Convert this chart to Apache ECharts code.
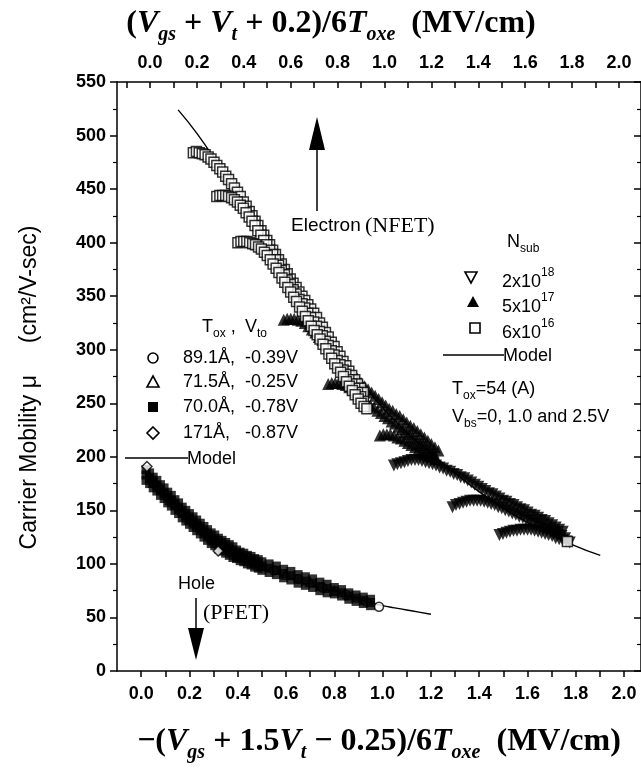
<!DOCTYPE html>
<html><head><meta charset="utf-8">
<script src="https://cdn.jsdelivr.net/npm/echarts@6/dist/echarts.min.js"></script>
<style>html,body{margin:0;padding:0;background:#fff}#c{width:641px;height:768px}</style>
</head><body><div id="c"></div>
<script>
// ---- tick labels ----
const yTickLabels = ['0','50','100','150','200','250','300','350','400','450','500','550'];
const xTickLabels = ['0.0','0.2','0.4','0.6','0.8','1.0','1.2','1.4','1.6','1.8','2.0'];

// ---- NFET (electron), plotted against top axis (Vgs+Vt+0.2)/6Toxe ----
const nfetModel = [[0.12,524],[0.2,502],[0.3,470],[0.4,437],[0.5,401],[0.6,366],[0.7,333],[0.8,300],[0.9,270],[1.0,244],[1.1,222],[1.2,203],[1.3,185],[1.4,168],[1.5,153],[1.6,140],[1.7,129],[1.8,118],[1.92,108]];

// Nsub = 6x10^16 (open squares), three Vbs branches
const nfet6e16a = [[0.185,484],[0.198,485],[0.21,484],[0.223,483],[0.235,482],[0.248,480],[0.26,478],[0.273,475],[0.285,472],[0.298,469],[0.31,466],[0.323,462],[0.335,459],[0.348,455],[0.36,451],[0.373,447],[0.385,443],[0.398,438],[0.41,434],[0.423,429],[0.435,425],[0.448,420],[0.46,416],[0.473,411],[0.485,407],[0.498,402],[0.51,398],[0.523,393],[0.535,389],[0.548,384],[0.56,380],[0.573,375],[0.585,371],[0.598,366],[0.61,362],[0.623,358],[0.635,354],[0.648,350],[0.66,346],[0.673,342],[0.685,338],[0.698,334],[0.71,330],[0.723,325],[0.735,321],[0.748,316],[0.76,312],[0.773,307],[0.785,303],[0.798,298],[0.81,294],[0.823,289],[0.835,285],[0.848,280],[0.86,276],[0.873,272],[0.885,268],[0.898,264],[0.91,260]];
const nfet6e16b = [[0.285,443],[0.298,444],[0.31,444],[0.323,444],[0.335,443],[0.348,442],[0.36,440],[0.373,438],[0.385,435],[0.398,432],[0.41,428],[0.423,424],[0.435,420],[0.448,416],[0.46,411],[0.473,407],[0.485,402],[0.498,398],[0.51,393],[0.523,389],[0.535,384],[0.548,379],[0.56,374],[0.573,370],[0.585,365],[0.598,361],[0.61,356],[0.623,352],[0.635,347],[0.648,343],[0.66,339],[0.673,334],[0.685,330],[0.698,326],[0.71,322],[0.723,317],[0.735,313],[0.748,308],[0.76,304],[0.773,299],[0.785,295],[0.798,290],[0.81,286],[0.823,281],[0.835,277],[0.848,272],[0.86,268],[0.873,264],[0.885,260],[0.898,256],[0.91,252]];
const nfet6e16c = [[0.375,400],[0.388,401],[0.40,401],[0.413,401],[0.425,400],[0.438,399],[0.45,398],[0.463,396],[0.475,394],[0.488,391],[0.50,388],[0.513,384],[0.525,380],[0.538,376],[0.55,372],[0.563,367],[0.575,363],[0.588,358],[0.60,354],[0.613,349],[0.625,345],[0.638,340],[0.65,336],[0.663,331],[0.675,327],[0.688,322],[0.70,318],[0.713,314],[0.725,310],[0.738,305],[0.75,301],[0.763,296],[0.775,292],[0.788,287],[0.80,283],[0.813,279],[0.825,275],[0.838,270],[0.85,266],[0.863,262],[0.875,258],[0.888,254],[0.90,250],[0.913,247],[0.925,245],[1.78,121]];

// Nsub = 5x10^17 (filled triangles)
const nfet5e17a = [[0.57,328],[0.585,329],[0.60,329],[0.615,329],[0.63,328],[0.645,327],[0.66,325],[0.675,322],[0.69,319],[0.705,316],[0.72,312],[0.735,309],[0.75,305],[0.765,302],[0.78,298],[0.795,295],[0.81,291],[0.825,287],[0.84,283],[0.855,280],[0.87,276],[0.885,273],[0.90,269],[0.915,266],[0.93,263],[0.945,260],[0.96,257],[0.975,254],[0.99,251],[1.005,248],[1.02,245],[1.035,243],[1.05,240],[1.065,238],[1.08,235],[1.095,232],[1.11,229],[1.125,227],[1.14,224],[1.155,221],[1.17,218],[1.185,215],[1.20,212],[1.215,209],[1.23,206]];
const nfet5e17b = [[0.76,268],[0.775,269],[0.79,269],[0.805,269],[0.82,268],[0.835,267],[0.85,265],[0.865,263],[0.88,260],[0.895,257],[0.91,254],[0.925,251],[0.94,248],[0.955,246],[0.97,243],[0.985,241],[1.00,238],[1.015,236],[1.03,233],[1.045,231],[1.06,228],[1.075,226],[1.09,223],[1.105,221],[1.12,218],[1.135,216],[1.15,213],[1.165,211],[1.18,208],[1.195,206],[1.21,204]];
const nfet5e17c = [[0.98,220],[0.995,221],[1.01,221],[1.025,221],[1.04,220],[1.055,218],[1.07,217],[1.085,215],[1.10,213],[1.115,211],[1.13,209],[1.145,207],[1.16,205],[1.175,203],[1.19,201],[1.205,200],[1.22,198]];

// Nsub = 2x10^18 (inverted triangles)
const nfet2e18a = [[1.04,192],[1.055,193],[1.07,194],[1.085,195],[1.10,196],[1.115,197],[1.13,197],[1.145,197],[1.16,196],[1.175,195],[1.19,194],[1.205,193],[1.22,192],[1.235,190],[1.25,189],[1.265,187],[1.28,186],[1.295,184],[1.31,183],[1.325,181],[1.34,180],[1.355,178],[1.37,176],[1.385,174],[1.40,172],[1.415,170],[1.43,168],[1.445,166],[1.46,165],[1.475,163],[1.49,161],[1.505,159],[1.52,158],[1.535,156],[1.55,155],[1.565,153],[1.58,151],[1.595,150],[1.61,148],[1.625,146],[1.64,145],[1.655,143],[1.67,141],[1.685,140],[1.70,138],[1.715,136],[1.73,134],[1.745,132],[1.76,130]];
const nfet2e18b = [[1.29,153],[1.305,155],[1.32,156],[1.335,157],[1.35,158],[1.365,159],[1.38,159],[1.395,159],[1.41,159],[1.425,158],[1.44,157],[1.455,156],[1.47,155],[1.485,153],[1.50,152],[1.515,150],[1.53,149],[1.545,147],[1.56,146],[1.575,144],[1.59,143],[1.605,141],[1.62,140],[1.635,138],[1.65,137],[1.665,135],[1.68,133],[1.695,132],[1.71,130],[1.725,129],[1.74,127],[1.755,126],[1.77,124]];
const nfet2e18c = [[1.49,127],[1.505,128],[1.52,129],[1.535,130],[1.55,131],[1.565,131],[1.58,132],[1.595,132],[1.61,132],[1.625,132],[1.64,131],[1.655,130],[1.67,129],[1.685,128],[1.70,127],[1.715,126],[1.73,124],[1.745,123],[1.76,122],[1.775,121],[1.79,120]];

// ---- PFET (hole), plotted against bottom axis -(Vgs+1.5Vt-0.25)/6Toxe ----
const pfetModel = [[0.02,190],[0.05,180],[0.08,171],[0.11,163],[0.15,153],[0.2,141],[0.25,131],[0.3,122],[0.35,114],[0.4,107],[0.45,101],[0.5,96],[0.55,92],[0.6,88],[0.65,84],[0.7,80],[0.75,77],[0.8,74],[0.85,71],[0.9,68],[0.95,64],[1.0,61],[1.05,59],[1.1,57],[1.15,55],[1.2,53]];
const pfet891 = [[0.35,115],[0.45,103],[0.55,94],[0.65,86],[0.75,78],[0.85,71],[0.93,65],[0.985,60]];
const pfet715 = [[0.05,176],[0.12,160],[0.2,142],[0.3,122],[0.4,108],[0.5,98],[0.6,90],[0.7,83],[0.8,75]];
const pfet700mid = [[0.02,183],[0.035,180],[0.05,176],[0.065,173],[0.08,169],[0.095,166],[0.11,162],[0.125,159],[0.14,155],[0.155,152],[0.17,148],[0.185,145],[0.20,142],[0.215,139],[0.23,136],[0.245,133],[0.26,130],[0.275,127],[0.29,124],[0.305,122],[0.32,119],[0.335,117],[0.35,115],[0.365,113],[0.38,111],[0.395,109],[0.41,107],[0.425,106],[0.44,104],[0.455,103],[0.47,101],[0.485,100],[0.50,98],[0.53,96],[0.56,94],[0.59,91],[0.62,89],[0.65,86],[0.68,84],[0.71,82],[0.74,79],[0.77,77],[0.80,75],[0.83,73],[0.86,70],[0.89,68],[0.92,66],[0.95,64]];
const pfet700hi = [[0.02,188],[0.035,185],[0.05,181],[0.065,178],[0.08,174],[0.095,171],[0.11,167],[0.125,164],[0.14,160],[0.155,157],[0.17,153],[0.185,150],[0.20,147],[0.215,144],[0.23,141],[0.245,138],[0.26,135],[0.275,132],[0.29,129],[0.305,127],[0.32,124],[0.335,122],[0.35,120],[0.365,118],[0.38,116],[0.395,113],[0.41,111],[0.425,110],[0.44,108],[0.455,107],[0.47,105],[0.485,104],[0.50,102],[0.53,100],[0.56,98],[0.59,95],[0.62,93],[0.65,90],[0.68,88],[0.71,86],[0.74,83],[0.77,81],[0.80,78],[0.83,76],[0.86,73],[0.89,71],[0.92,69],[0.95,67]];
const pfet700lo = [[0.02,178],[0.035,175],[0.05,171],[0.065,168],[0.08,164],[0.095,161],[0.11,157],[0.125,154],[0.14,150],[0.155,147],[0.17,143],[0.185,140],[0.20,137],[0.215,134],[0.23,131],[0.245,128],[0.26,125],[0.275,122],[0.29,119],[0.305,117],[0.32,114],[0.335,112],[0.35,110],[0.365,108],[0.38,106],[0.395,105],[0.41,103],[0.425,102],[0.44,100],[0.455,99],[0.47,97],[0.485,96],[0.50,94],[0.53,92],[0.56,90],[0.59,87],[0.62,85],[0.65,82],[0.68,80],[0.71,78],[0.74,75],[0.77,73],[0.80,72],[0.83,70],[0.86,67],[0.89,65],[0.92,63],[0.95,61]];
const pfet171 = [[0.024,191],[0.319,112]];

// ---- styling ----
const SANS = 'Liberation Sans, Arial, sans-serif';
const SERIF = 'Liberation Serif, Times New Roman, serif';
const BLACK = '#000';

function xLabel(v) {
  const s = v.toFixed(1);
  return (xTickLabels.indexOf(s) >= 0 && Math.abs(v - parseFloat(s)) < 1e-6) ? s : '';
}
function yLabel(v) {
  const s = String(Math.round(v));
  return yTickLabels.indexOf(s) >= 0 ? s : '';
}

const titleRich = {
  m: {fontFamily: SERIF, fontWeight: 'bold', fontSize: 32, lineHeight: 34, verticalAlign: 'top', color: BLACK},
  i: {fontFamily: SERIF, fontWeight: 'bold', fontStyle: 'italic', fontSize: 32, lineHeight: 34, verticalAlign: 'top', color: BLACK},
  s: {fontFamily: SERIF, fontWeight: 'bold', fontStyle: 'italic', fontSize: 20, lineHeight: 20, padding: [17,0,0,0], verticalAlign: 'top', color: BLACK}
};
const tickFont = {color: BLACK, fontFamily: SANS, fontSize: 18, fontWeight: 'bold'};
const axisLineStyle = {color: BLACK, width: 1.5};

const legRich = {
  m: {fontFamily: SANS, fontSize: 18, lineHeight: 20, padding: [6,0,0,0], verticalAlign: 'top', fill: BLACK},
  p: {fontFamily: SANS, fontSize: 12, lineHeight: 12, verticalAlign: 'top', fill: BLACK}
};
const subRich = {
  m: {fontFamily: SANS, fontSize: 18, lineHeight: 20, verticalAlign: 'top', fill: BLACK},
  s: {fontFamily: SANS, fontSize: 12, lineHeight: 12, padding: [10,0,0,0], verticalAlign: 'top', fill: BLACK}
};
function T(x, y, text, rich) {
  return {type: 'text', x: x, y: y, z: 10, style: {text: text, rich: rich, align: 'left', verticalAlign: 'middle', fill: BLACK, fontFamily: SANS, fontSize: 18}};
}
function P(text, x, y, size, fam) {
  return {type: 'text', x: x, y: y, z: 10, style: {text: text, fontFamily: fam || SANS, fontSize: size || 18, fill: BLACK, align: 'left', verticalAlign: 'middle'}};
}
const stroke = {stroke: BLACK, lineWidth: 1.6, fill: '#fff'};

const graphics = [
  // electron arrow + label
  {type: 'line', z: 10, shape: {x1: 317, y1: 211, x2: 317, y2: 146}, style: {stroke: BLACK, lineWidth: 1.5}},
  {type: 'polygon', z: 10, shape: {points: [[309,150],[325,150],[317,117]]}, style: {fill: BLACK}},
  P('Electron', 291, 226, 19),
  P('(NFET)', 365, 226, 22, SERIF),
  // hole arrow + label
  P('Hole', 178, 584, 18),
  P('(PFET)', 203, 613, 22, SERIF),
  {type: 'line', z: 10, shape: {x1: 196, y1: 598, x2: 196, y2: 632}, style: {stroke: BLACK, lineWidth: 1.5}},
  {type: 'polygon', z: 10, shape: {points: [[188,628],[204,628],[196,660]]}, style: {fill: BLACK}},
  // NFET legend
  T(507, 243, '{m|N}{s|sub}', subRich),
  {type: 'polygon', z: 10, shape: {points: [[465,272],[477,272],[471,283]]}, style: stroke},
  T(502, 277, '{m|2x10}{p|18}', legRich),
  {type: 'polygon', z: 10, shape: {points: [[467,307],[479,307],[473,296]]}, style: {fill: BLACK}},
  T(502, 302, '{m|5x10}{p|17}', legRich),
  {type: 'rect', z: 10, shape: {x: 470, y: 323, width: 10, height: 10}, style: stroke},
  T(502, 328, '{m|6x10}{p|16}', legRich),
  {type: 'line', z: 10, shape: {x1: 443, y1: 355, x2: 504, y2: 355}, style: {stroke: BLACK, lineWidth: 1.5}},
  P('Model', 503, 356, 18),
  T(452, 390, '{m|T}{s|ox}{m|=54 (A)}', subRich),
  T(452, 418, '{m|V}{s|bs}{m|=0, 1.0 and 2.5V}', subRich),
  // PFET legend
  T(202, 328, '{m|T}{s|ox}{m| ,}', subRich),
  T(245, 328, '{m|V}{s|to}', subRich),
  {type: 'circle', z: 10, shape: {cx: 153, cy: 358, r: 5}, style: stroke},
  P('89.1Å,', 183, 358, 18), P('-0.39V', 245, 358, 18),
  {type: 'polygon', z: 10, shape: {points: [[147,387],[159,387],[153,376]]}, style: stroke},
  P('71.5Å,', 183, 382, 18), P('-0.25V', 245, 382, 18),
  {type: 'rect', z: 10, shape: {x: 148, y: 402, width: 10, height: 10}, style: {fill: BLACK}},
  P('70.0Å,', 183, 407, 18), P('-0.78V', 245, 407, 18),
  {type: 'polygon', z: 10, shape: {points: [[153,427],[159,433],[153,439],[147,433]]}, style: stroke},
  P('171Å,', 183, 433, 18), P('-0.87V', 245, 433, 18),
  {type: 'line', z: 10, shape: {x1: 125, y1: 458, x2: 188, y2: 458}, style: {stroke: BLACK, lineWidth: 1.5}},
  P('Model', 187, 459, 18)
];

const openSq = {color: '#fff', borderColor: BLACK, borderWidth: 1.5};
const series = [
  {name: 'NFET Model', type: 'line', xAxisIndex: 1, data: nfetModel, smooth: true, showSymbol: false, symbol: 'none', lineStyle: {color: BLACK, width: 1.4}, z: 2}
];
[nfet5e17a, nfet5e17b, nfet5e17c].forEach(function (d) {
  series.push({name: '5x10^17', type: 'scatter', xAxisIndex: 1, data: d, symbol: 'triangle', symbolSize: 12, itemStyle: {color: BLACK}, z: 3});
});
[nfet2e18a, nfet2e18b, nfet2e18c].forEach(function (d) {
  series.push({name: '2x10^18', type: 'scatter', xAxisIndex: 1, data: d, symbol: 'triangle', symbolRotate: 180, symbolSize: 12, itemStyle: {color: BLACK}, z: 3});
});
[nfet6e16a, nfet6e16b, nfet6e16c].forEach(function (d) {
  series.push({name: '6x10^16', type: 'scatter', xAxisIndex: 1, data: d, symbol: 'rect', symbolSize: 10, itemStyle: openSq, z: 4});
});
series.push({name: 'PFET Model', type: 'line', xAxisIndex: 0, data: pfetModel, smooth: true, showSymbol: false, symbol: 'none', lineStyle: {color: BLACK, width: 1.4}, z: 2});
series.push({name: '89.1Å, -0.39V', type: 'scatter', xAxisIndex: 0, data: pfet891, symbol: 'circle', symbolSize: 9, itemStyle: openSq, z: 3});
series.push({name: '71.5Å, -0.25V', type: 'scatter', xAxisIndex: 0, data: pfet715, symbol: 'triangle', symbolSize: 9, itemStyle: openSq, z: 3});
[pfet700mid, pfet700hi, pfet700lo].forEach(function (d) {
  series.push({name: '70.0Å, -0.78V', type: 'scatter', xAxisIndex: 0, data: d, symbol: 'rect', symbolSize: 9, itemStyle: {color: BLACK}, z: 4});
});
series.push({name: '171Å, -0.87V', type: 'scatter', xAxisIndex: 0, data: pfet171, symbol: 'diamond', symbolSize: 10, itemStyle: openSq, z: 5});

const chart = echarts.init(document.getElementById('c'), null, {renderer: 'canvas'});
chart.setOption({
  animation: false,
  backgroundColor: '#fff',
  grid: {left: 117, right: 0, top: 82, bottom: 95, containLabel: false},
  xAxis: [
    {
      type: 'value', position: 'bottom', min: -0.1, max: 2.07, interval: 0.1,
      axisLine: {show: true, onZero: false, lineStyle: axisLineStyle},
      axisTick: {show: true, inside: false, length: 6, lineStyle: axisLineStyle},
      axisLabel: Object.assign({formatter: xLabel, margin: 14, showMinLabel: false, showMaxLabel: false}, tickFont),
      splitLine: {show: false},
      name: '{m|−(}{i|V}{s|gs}{m| + 1.5}{i|V}{s|t}{m| − 0.25)/6}{i|T}{s|oxe}{m|  (MV/cm)}',
      nameLocation: 'middle', nameGap: 55,
      nameTextStyle: {rich: titleRich, fontSize: 32, fontFamily: SERIF}
    },
    {
      type: 'value', position: 'top', min: -0.1407, max: 2.0938, splitNumber: 20,
      axisLine: {show: true, onZero: false, lineStyle: axisLineStyle},
      axisTick: {show: true, inside: true, length: 6, lineStyle: axisLineStyle},
      axisLabel: Object.assign({formatter: xLabel, margin: 10, showMinLabel: false, showMaxLabel: false}, tickFont),
      splitLine: {show: false},
      name: '{m|(}{i|V}{s|gs}{m| + }{i|V}{s|t}{m| + 0.2)/6}{i|T}{s|oxe}{m|  (MV/cm)}',
      nameLocation: 'middle', nameGap: 40,
      nameTextStyle: {rich: titleRich, fontSize: 32, fontFamily: SERIF, padding: [0, 96, 0, 0]}
    }
  ],
  yAxis: [
    {
      type: 'value', position: 'left', min: 0, max: 550, interval: 50,
      axisLine: {show: true, onZero: false, lineStyle: axisLineStyle},
      axisTick: {show: true, inside: false, length: 7, lineStyle: axisLineStyle},
      minorTick: {show: true, splitNumber: 2, length: 4, lineStyle: {color: BLACK, width: 1.2}},
      axisLabel: Object.assign({formatter: yLabel, margin: 11}, tickFont),
      splitLine: {show: false},
      name: 'Carrier Mobility μ     (cm²/V-sec)', nameLocation: 'middle', nameRotate: 90, nameGap: 76,
      nameTextStyle: {fontFamily: SANS, fontSize: 23, color: BLACK, padding: [0, 22, 0, 0]}
    },
    {
      type: 'value', position: 'right', min: 0, max: 550, interval: 50,
      axisLine: {show: true, onZero: false, lineStyle: axisLineStyle},
      axisTick: {show: true, inside: true, length: 7, lineStyle: axisLineStyle},
      minorTick: {show: true, splitNumber: 2, length: 4, lineStyle: {color: BLACK, width: 1.2}},
      axisLabel: {show: false},
      splitLine: {show: false}
    }
  ],
  graphic: graphics,
  series: series
});
</script>
</body></html>
